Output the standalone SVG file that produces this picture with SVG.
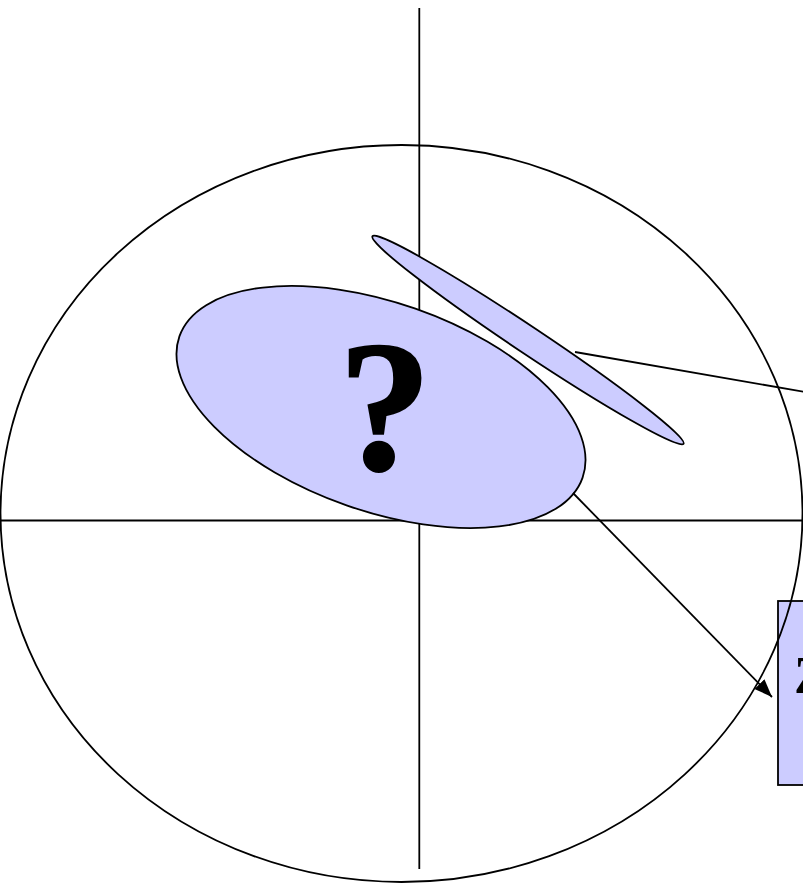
<svg xmlns="http://www.w3.org/2000/svg" width="803" height="883" viewBox="0 0 803 883">
<defs>
<style>
.ln{stroke:#000;stroke-width:1.8;fill:none}
.sh{fill:#CCCCFF;stroke:#000;stroke-width:1.8}
.big{font-family:"Liberation Serif",serif;font-weight:bold;fill:#000}
</style>
<marker id="ah" viewBox="0 0 18 14" refX="18" refY="7" markerWidth="18" markerHeight="14" markerUnits="userSpaceOnUse" orient="auto">
<path d="M0,0 L18,7 L0,14 z" fill="#000"/>
</marker>
</defs>
<rect width="803" height="883" fill="#fff"/>
<g id="box">
<rect x="778" y="601" width="40" height="184" class="sh"/>
<text x="794" y="693" font-size="52" class="big">Z</text>
</g>
<g id="frame">
<ellipse cx="401.5" cy="513.5" rx="401" ry="368.5" class="ln"/>
<line x1="419.3" y1="8" x2="419.3" y2="869" class="ln"/>
<line x1="0" y1="520.5" x2="803" y2="520.5" class="ln"/>
</g>
<g id="big-ellipse">
<ellipse cx="381" cy="407" rx="213.6" ry="104.2" transform="rotate(19.3 381 407)" class="sh"/>
<text x="385" y="469" font-size="186" text-anchor="middle" class="big" style="stroke:#000;stroke-width:2">?</text>
</g>
<g id="thin-ellipse">
<ellipse cx="528" cy="340" rx="187" ry="13.5" transform="rotate(33.7 528 340)" class="sh"/>
</g>
<g id="connectors">
<line x1="575" y1="352" x2="805" y2="392" class="ln"/>
<path d="M573,493 L772,697" class="ln" marker-end="url(#ah)"/>
</g>
</svg>
